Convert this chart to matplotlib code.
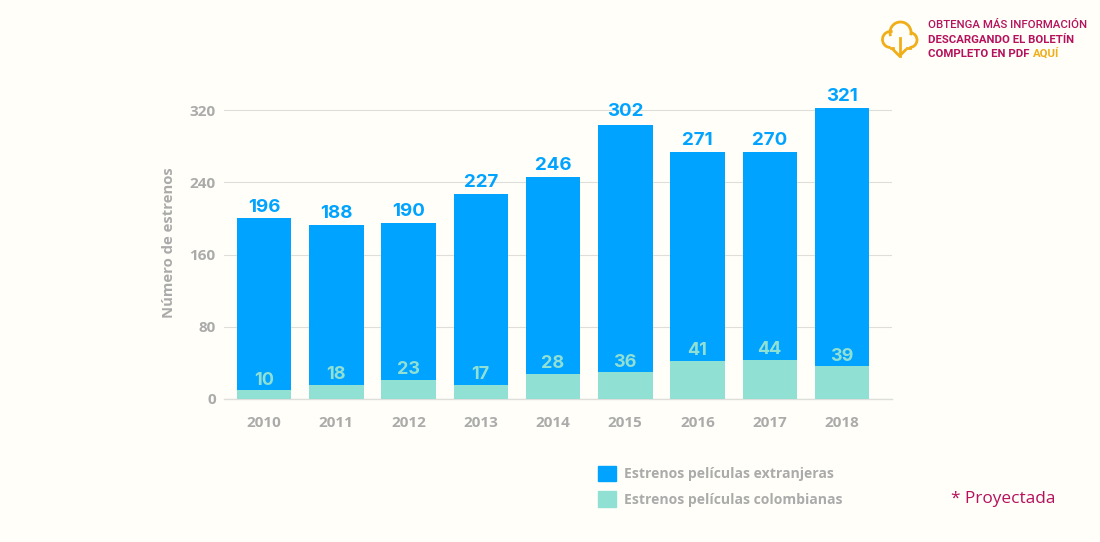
#!/usr/bin/env python3
import numpy as np
import matplotlib
matplotlib.use('Agg')
import matplotlib.pyplot as plt
from matplotlib.patches import Patch, Arc

years = ['2010', '2011', '2012', '2013', '2014', '2015', '2016', '2017', '2018']
# printed labels
extranjeras_lbl = [196, 188, 190, 227, 246, 302, 271, 270, 321]
colombianas_lbl = [10, 18, 23, 17, 28, 36, 41, 44, 39]
# bar heights as drawn in the picture (they differ a bit from the labels)
extranjeras_h = [200, 193, 195, 227.5, 246, 303, 274, 274, 322]
colombianas_h = [9.5, 16, 21.5, 16, 28, 30, 42.5, 43.5, 36]
y_ticks = [0, 80, 160, 240, 320]

BG = '#FFFEF8'
BLUE = '#00A3FF'
TEAL = '#90E0D4'
GRID = '#DEDEDA'
GRAY = '#ABABAB'
CRIMSON = '#B5115C'
GOLD = '#F0AE1B'
W, H = 1100, 542

fig = plt.figure(figsize=(W / 100, H / 100), dpi=100, facecolor=BG)

# axes placed in pixels: y=0 at 399, y=320 at 110
px_per_unit = 289 / 320
ymax = 340
left, right, bottom = 224, 892, 399
top = bottom - ymax * px_per_unit
ax = fig.add_axes([left / W, 1 - bottom / H, (right - left) / W, (bottom - top) / H])
ax.set_facecolor('none')

step = 72.25
x = np.arange(len(years))
ax.set_xlim((left - 264) / step, (right - 264) / step)
ax.set_ylim(0, ymax)

ax.bar(x, extranjeras_h, 54.5 / step, color=BLUE, zorder=3)
ax.bar(x, colombianas_h, 54.5 / step, color=TEAL, zorder=4)

for xi, h, v in zip(x, extranjeras_h, extranjeras_lbl):
    # the 302 label sits higher above its bar in the original
    off = 4 if v == 302 else 2
    ax.annotate(str(v), (xi, h), xytext=(0, off), textcoords='offset points', ha='center', va='bottom',
                color=BLUE, fontsize=13.5, fontweight='bold', family='Inter', zorder=5)
for xi, h, v in zip(x, colombianas_h, colombianas_lbl):
    ax.annotate(str(v), (xi, h), xytext=(0, 1), textcoords='offset points', ha='center', va='bottom',
                color=TEAL, fontsize=13, fontweight='bold', family='Inter', zorder=5)

for side in ['top', 'right', 'left']:
    ax.spines[side].set_visible(False)
ax.spines['bottom'].set_color(GRID)
ax.spines['bottom'].set_linewidth(1)
ax.set_yticks(y_ticks)
ax.set_xticks(x, years)
ax.grid(axis='y', color=GRID, linewidth=0.8, zorder=0)
ax.set_axisbelow(True)
ax.tick_params(axis='both', length=0, labelcolor=GRAY, labelsize=11)
ax.tick_params(axis='y', pad=6)
ax.tick_params(axis='x', pad=12)
for t in ax.get_xticklabels() + ax.get_yticklabels():
    t.set_family('Open Sans')
    t.set_fontweight('bold')

fig.text(169 / W, 1 - 242.5 / H, 'Número de estrenos', rotation=90, ha='center', va='center',
         color=GRAY, fontsize=10.7, fontweight='bold', family='Open Sans')

handles = [Patch(color=BLUE), Patch(color=TEAL)]
fig.legend(handles, ['Estrenos películas extranjeras', 'Estrenos películas colombianas'],
           loc='upper left', bbox_to_anchor=(598 / W, 1 - 465.5 / H), borderaxespad=0, borderpad=0,
           frameon=False, labelcolor=GRAY, handlelength=1.3, handleheight=1.35, handletextpad=0.55,
           labelspacing=0.72, prop={'family': 'Open Sans', 'weight': 'bold', 'size': 10.1})

fig.text(1055 / W, 1 - 499 / H, '* Proyectada', ha='right', va='center', color=CRIMSON,
         fontsize=12.4, family='Open Sans')

# download note, top right
note_kw = dict(va='baseline', fontsize=8.2, family='Roboto')
fig.text(928 / W, 1 - 28.5 / H, 'OBTENGA MÁS INFORMACIÓN', color=CRIMSON, fontweight='medium', **note_kw)
fig.text(928 / W, 1 - 43 / H, 'DESCARGANDO EL BOLETÍN', color=CRIMSON, fontweight='bold', **note_kw)
fig.text(928 / W, 1 - 57 / H, 'COMPLETO EN PDF', color=CRIMSON, fontweight='bold', **note_kw)
fig.text(1033 / W, 1 - 57 / H, 'AQUÍ', color=GOLD, fontweight='bold', **note_kw)

# cloud icon in pixel coordinates
ic = fig.add_axes([0, 0, 1, 1])
ic.set_xlim(0, W)
ic.set_ylim(H, 0)
ic.axis('off')
ic.patch.set_alpha(0)
lw = 2
arc_kw = dict(color=GOLD, linewidth=lw)
# y is flipped here, so 270 deg is up on screen
ic.add_patch(Arc((890.5, 39.5), 16, 16, theta1=90, theta2=285, **arc_kw))
ic.add_patch(Arc((900.5, 32.5), 21, 21, theta1=160, theta2=15, **arc_kw))
ic.add_patch(Arc((909.5, 40), 15, 15, theta1=280, theta2=90, **arc_kw))
ic.plot([890.5, 893], [47.5, 47.5], color=GOLD, lw=lw)
ic.plot([906.5, 909.5], [47.5, 47.5], color=GOLD, lw=lw)
ic.plot([899.5, 899.5], [38, 56], color=GOLD, lw=lw)
ic.plot([893.5, 899.5, 905.5], [50, 56, 50], color=GOLD, lw=lw)

fig.savefig('out.png', dpi=100, facecolor=BG)
